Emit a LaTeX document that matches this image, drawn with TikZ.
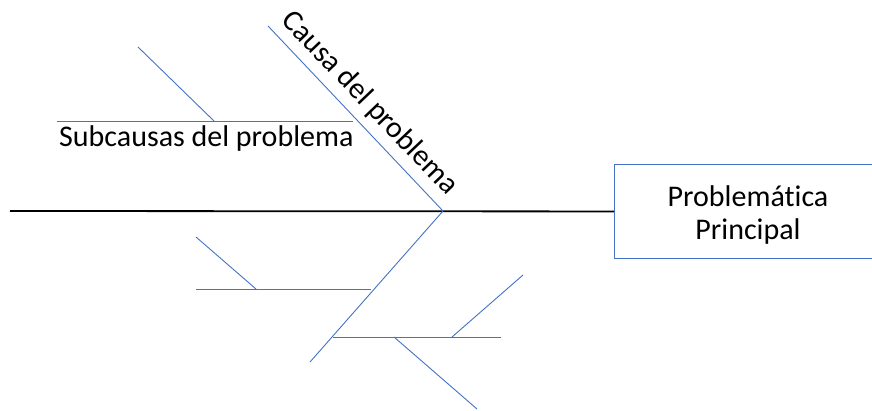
\documentclass[tikz,border=0pt]{standalone}
\usepackage{fontspec}
\setmainfont[Ligatures=NoCommon]{Carlito}
\definecolor{bone}{RGB}{68,114,196}
\begin{document}
\begin{tikzpicture}[x=1pt,y=-1pt,
  bone/.style={draw=bone,line width=0.9pt},
  spine/.style={draw=black,line width=1.8pt},
  lbl/.style={font=\fontsize{30}{33}\selectfont,inner sep=0pt}]
\useasboundingbox (0,0) rectangle (872,411);
% head of the fish
\node[draw=bone,line width=0.9pt,minimum width=259pt,minimum height=94pt,
      inner sep=0pt,anchor=north west] (prob) at (614,164) {};
\node[lbl,align=center] (probtxt) at (748,215) {Problemática\\Principal};
% spine
\coordinate (tail) at (10,211);
\coordinate (joint) at (443,211);
\draw[spine] (tail) -- (prob.west);
% upper cause
\coordinate (c1) at (268,26);
\draw[bone] (c1) -- (joint);
\node[lbl,anchor=base,rotate=-46.4] (causa) at (364,109) {Causa del problema};
\coordinate (s1a) at (57,121);
\coordinate (s1b) at (353,121);
\coordinate (s1c) at (138,47);
\coordinate (s1d) at (214,121);
\draw[bone] (s1a) -- (s1b);
\draw[bone] (s1c) -- (s1d);
\node[lbl,anchor=base west] (sub) at (59,147) {Subcausas del problema};
% lower cause
\coordinate (c2) at (310,362);
\draw[bone] (joint) -- (c2);
\coordinate (s2a) at (196,289);
\coordinate (s2b) at (371,289);
\coordinate (s2c) at (196,237);
\coordinate (s2d) at (256,289);
\draw[bone] (s2a) -- (s2b);
\draw[bone] (s2c) -- (s2d);
\coordinate (s3a) at (333,337);
\coordinate (s3b) at (501,337);
\coordinate (s3c) at (523,275);
\coordinate (s3d) at (452,337);
\coordinate (s3e) at (394,337);
\coordinate (s3f) at (477,409);
\draw[bone] (s3a) -- (s3b);
\draw[bone] (s3c) -- (s3d);
\draw[bone] (s3e) -- (s3f);
\end{tikzpicture}
\end{document}
